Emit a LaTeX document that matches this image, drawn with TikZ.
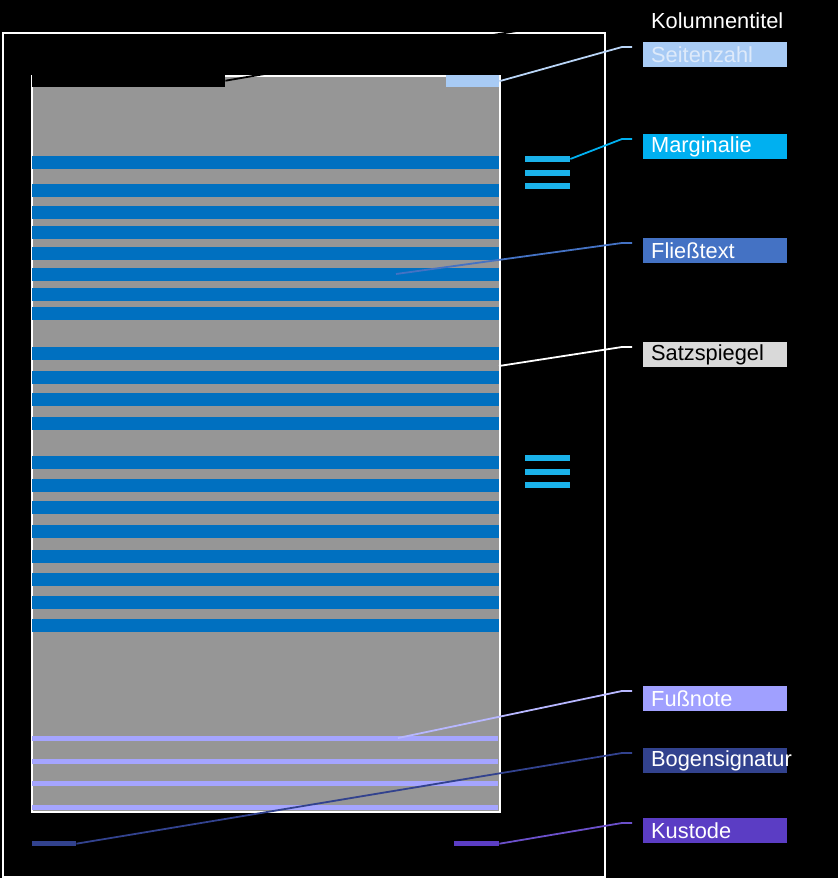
\documentclass[tikz,border=0pt]{standalone}
\usepackage{fontspec}
\setmainfont{Liberation Sans}
\usetikzlibrary{calc}
\definecolor{mygray}{RGB}{150,150,150}
\definecolor{myblue}{RGB}{0,112,192}
\definecolor{mysky}{RGB}{168,203,245}
\definecolor{myskytext}{RGB}{222,234,250}
\definecolor{mycyan}{RGB}{0,176,240}
\definecolor{mybar}{RGB}{26,178,234}
\definecolor{myfliess}{RGB}{68,114,196}
\definecolor{mysatz}{RGB}{217,217,217}
\definecolor{myviolet}{RGB}{160,160,255}
\definecolor{mystripe}{RGB}{165,165,255}
\definecolor{mybogen}{RGB}{50,66,142}
\definecolor{mypurple}{RGB}{91,61,196}
\hyphenpenalty=10000
\tikzset{
  area/.style={rectangle, draw=none, inner sep=0pt, anchor=north west},
  lblbox/.style={rectangle, anchor=north west, minimum width=144pt,
    minimum height=25pt, text width=128pt, inner xsep=8pt, inner ysep=0pt,
    align=left, text=white, font=\fontsize{21.8}{24}\selectfont},
  conn/.style={line width=1.8pt}
}
\begin{document}
\begin{tikzpicture}[x=1pt, y=-1pt]
  \fill[black] (0,0) rectangle (838,878);
  \useasboundingbox (0,0) rectangle (838,878);

  % page and type area
  \node[area, draw=white, line width=2pt, minimum width=602pt, minimum height=844pt] (page) at (2,32) {};
  \node[area, draw=white, fill=mygray, line width=1.5pt, minimum width=468pt, minimum height=736pt] (satz) at (31,75) {};

  % body lines
  \foreach \y [count=\i] in {156,184,206,226,247,268,288,307,347,371,393,417,456,479,501,525,550,573,596,619}
    \node[area, fill=myblue, minimum width=467pt, minimum height=13pt] (text\i) at (31.5,\y) {};

  % footnote lines
  \foreach \y [count=\i] in {736,759,781,805}
    \node[area, fill=mystripe, minimum width=466pt, minimum height=5pt] (fuss\i) at (32,\y) {};

  % head line
  \node[area, fill=black, minimum width=193pt, minimum height=13pt] (kolum) at (32,74) {};
  \node[area, fill=mysky, minimum width=53pt, minimum height=12pt] (seite) at (446,75) {};

  % marginal notes
  \foreach \y [count=\i] in {156,170,183,455,469,482}
    \node[area, fill=mybar, minimum width=45pt, minimum height=5.5pt] (marg\i) at (525,\y) {};

  % foot line
  \node[area, fill=mybogen, minimum width=44pt, minimum height=5pt] (bogen) at (32,841) {};
  \node[area, fill=mypurple, minimum width=45pt, minimum height=5pt] (kust) at (454,841) {};

  % labels
  \node[lblbox, fill=black] (lkolum) at (643,8) {Kolumnentitel};
  \node[lblbox, fill=mysky, text=myskytext] (lseite) at (643,42) {Seitenzahl};
  \node[lblbox, fill=mycyan] (lmarg) at (643,134) {Marginalie};
  \node[lblbox, fill=myfliess] (lfliess) at (643,238) {Fließtext};
  \node[lblbox, fill=mysatz, text=black] (lsatz) at (643,342) {Satzspiegel};
  \node[lblbox, fill=myviolet] (lfuss) at (643,686) {Fußnote};
  \node[lblbox, fill=mybogen] (lbogen) at (643,748) {Bogensignatur};
  \node[lblbox, fill=mypurple] (lkust) at (643,818) {Kustode};

  % connectors
  \coordinate (fliesspt) at (396,274);
  \coordinate (satzpt) at (499,366);
  \coordinate (fusspt) at (398,738);
  \draw[conn, black] (kolum.east) -- ($(lkolum.north west)+(-21,5)$) -- ($(lkolum.north west)+(-11,5)$);
  \draw[conn, color=mysky!80!white] (seite.east) -- ($(lseite.north west)+(-21,5)$) -- ($(lseite.north west)+(-11,5)$);
  \draw[conn, color=mycyan] (marg1.east) -- ($(lmarg.north west)+(-21,5)$) -- ($(lmarg.north west)+(-11,5)$);
  \draw[conn, color=myfliess] (fliesspt) -- ($(lfliess.north west)+(-21,5)$) -- ($(lfliess.north west)+(-11,5)$);
  \draw[conn, white] (satzpt) -- ($(lsatz.north west)+(-21,5)$) -- ($(lsatz.north west)+(-11,5)$);
  \draw[conn, color=mystripe!80!white] (fusspt) -- ($(lfuss.north west)+(-21,5)$) -- ($(lfuss.north west)+(-11,5)$);
  \draw[conn, color=mybogen] (bogen.east) -- ($(lbogen.north west)+(-21,5)$) -- ($(lbogen.north west)+(-11,5)$);
  \draw[conn, color=mypurple!90!white] (kust.east) -- ($(lkust.north west)+(-21,5)$) -- ($(lkust.north west)+(-11,5)$);
\end{tikzpicture}
\end{document}
